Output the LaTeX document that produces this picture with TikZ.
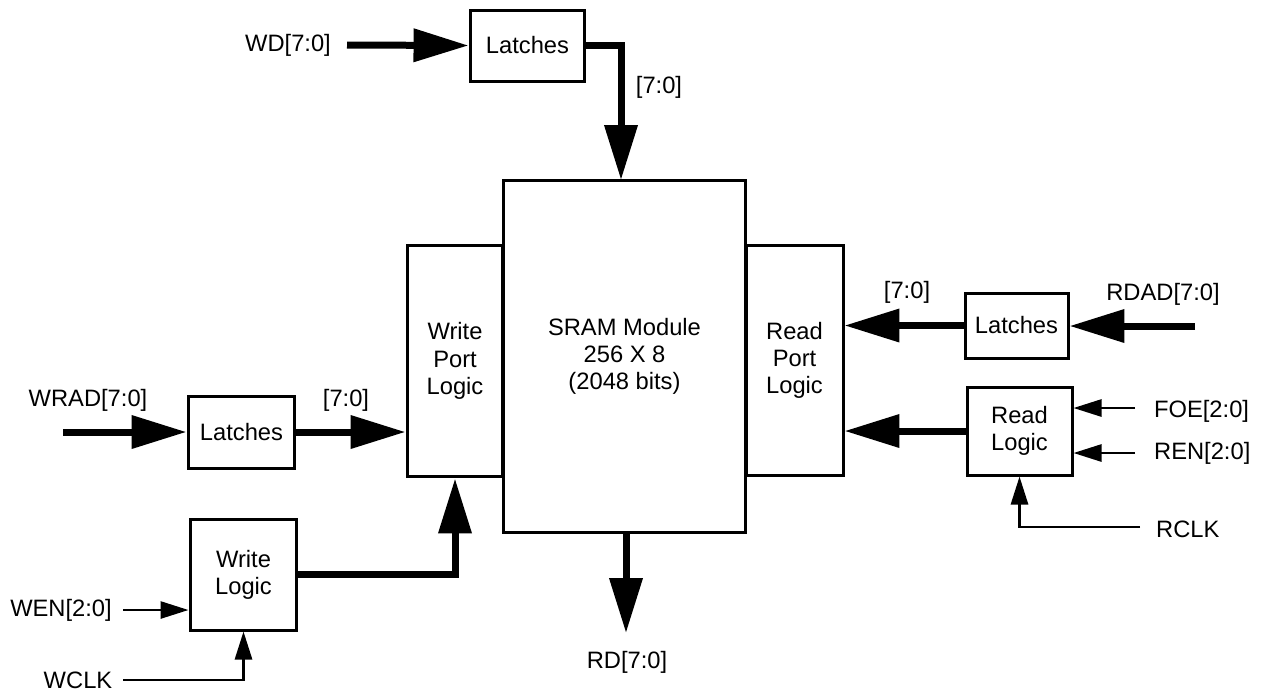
\documentclass[tikz,border=0pt]{standalone}
\usepackage{fontspec}
\setmainfont{Liberation Sans}
\usepackage{tikz}
\usetikzlibrary{arrows.meta, positioning, calc}

\begin{document}
\begin{tikzpicture}[
    x=0.02cm, y=-0.02cm,
    font=\fontsize{13.5}{15.5}\selectfont,
    block/.style={rectangle, draw, line width=0.06cm, align=center, inner sep=2pt},
    bus/.style={line width=0.14cm, -{Triangle[length=1.1cm, width=0.64cm]}},
    sig/.style={line width=0.055cm, -{Triangle[length=0.56cm, width=0.34cm]}},
    lbl/.style={inner sep=1pt},
  ]
    \useasboundingbox (0,0) rectangle (1263,691);

    % SRAM core and port logic
    \node[block, minimum width=4.86cm, minimum height=7.06cm] (sram) at (624.5,356.5) {SRAM Module\\256 X 8\\(2048 bits)};
    \node[block, minimum width=1.92cm, minimum height=4.64cm] (wport) at (455,361) {Write\\Port\\Logic};
    \node[block, minimum width=1.94cm, minimum height=4.62cm] (rport) at (794.5,360.5) {Read\\Port\\Logic};

    % Write side
    \node[block, minimum width=2.3cm, minimum height=1.42cm] (wdlatch) at (527.5,45.5) {Latches};
    \node[block, minimum width=2.14cm, minimum height=1.44cm] (walatch) at (241.5,432) {Latches};
    \node[block, minimum width=2.14cm, minimum height=2.22cm] (wlogic) at (243.5,574.5) {Write\\Logic};

    % Read side
    \node[block, minimum width=2.06cm, minimum height=1.3cm] (ralatch) at (1016.5,325.5) {Latches};
    \node[block, minimum width=2.1cm, minimum height=1.76cm] (rlogic) at (1019.5,431) {Read\\Logic};

    % Free ends
    \coordinate (wdin) at (347,45);
    \coordinate (wdtop) at (621,180);
    \coordinate (wrin) at (63,432);
    \coordinate (wenin) at (123,610);
    \coordinate (wclkin) at (123,680);
    \coordinate (rdout) at (626,633);
    \coordinate (rdadin) at (1195,326);
    \coordinate (foein) at (1135,408);
    \coordinate (renin) at (1135,453);
    \coordinate (rclkin) at (1140,527);

    % Labels
    \node[lbl] (wdlbl) at (288,45) {WD[7:0]};
    \node[lbl] (wradlbl) at (88,400) {WRAD[7:0]};
    \node[lbl] (wabus) at (346,400) {[7:0]};
    \node[lbl] (wdbus) at (659,87) {[7:0]};
    \node[lbl] (wenlbl) at (61,610) {WEN[2:0]};
    \node[lbl] (wclklbl) at (78,680) {WCLK};
    \node[lbl] (rdlbl) at (627,662) {RD[7:0]};
    \node[lbl] (rabus) at (907,292) {[7:0]};
    \node[lbl] (rdadlbl) at (1163,294) {RDAD[7:0]};
    \node[lbl, anchor=west] (foelbl) at (1152,411) {FOE[2:0]};
    \node[lbl, anchor=west] (renlbl) at (1152,453) {REN[2:0]};
    \node[lbl, anchor=west] (rclklbl) at (1154,529) {RCLK};

    % Connections
    \draw[bus] (wdin) -- (wdlatch.west);
    \draw[bus] (wdlatch.east) -| (wdtop);
    \draw[bus] (wrin) -- (walatch.west);
    \draw[bus] (walatch.east) -- (walatch.east -| wport.west);
    \draw[sig] (wenin) -- (wenin -| wlogic.west);
    \draw[sig] (wclkin) -| (wlogic.south);
    \draw[bus] (wlogic.east) -| (wport.south);
    \draw[bus] (sram.south -| rdout) -- (rdout);
    \draw[bus] (rdadin) -- (rdadin -| ralatch.east);
    \draw[bus] (ralatch.west) -- (ralatch.west -| rport.east);
    \draw[bus] (rlogic.west) -- (rlogic.west -| rport.east);
    \draw[sig] (foein) -- (foein -| rlogic.east);
    \draw[sig] (renin) -- (renin -| rlogic.east);
    \draw[sig] (rclkin) -| (rlogic.south);

  \end{tikzpicture}
\end{document}
